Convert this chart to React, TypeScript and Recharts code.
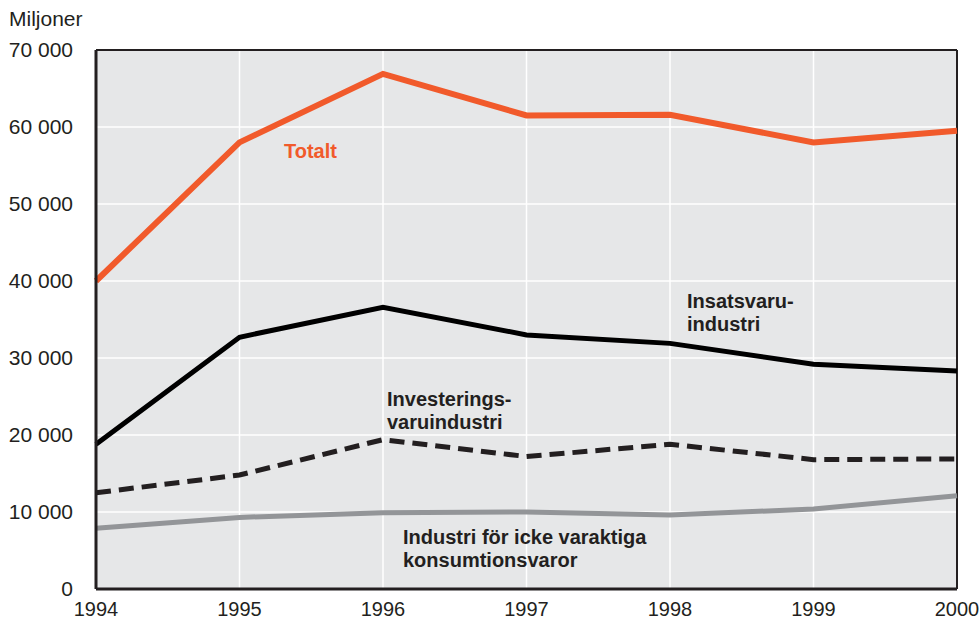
import React from 'react';
import {
  LineChart,
  Line,
  XAxis,
  YAxis,
  CartesianGrid,
  ReferenceLine,
} from 'recharts';

const years = [1994, 1995, 1996, 1997, 1998, 1999, 2000];
const totalt = [40000, 58000, 66900, 61500, 61600, 58000, 59500];
const insatsvaru = [18800, 32700, 36600, 33000, 31900, 29200, 28300];
const investerings = [12500, 14800, 19400, 17200, 18800, 16800, 16900];
const konsumtion = [7900, 9300, 9900, 10000, 9600, 10400, 12100];
const yTicks = [0, 10000, 20000, 30000, 40000, 50000, 60000, 70000];

const data = years.map((year, i) => ({
  year,
  totalt: totalt[i],
  insatsvaru: insatsvaru[i],
  investerings: investerings[i],
  konsumtion: konsumtion[i],
}));

const FONT = '"Liberation Sans", Arial, sans-serif';
const INK = '#231f20';
const ORANGE = '#f15a2b';

const formatY = (v: number) => (v === 0 ? '0' : `${v / 1000} 000`);

const labelStyle: React.CSSProperties = {
  position: 'absolute',
  fontFamily: FONT,
  fontWeight: 'bold',
  fontSize: 20,
  lineHeight: '23px',
  color: INK,
  whiteSpace: 'nowrap',
};

const App = () => {
  return (
    <div
      style={{
        position: 'absolute',
        left: 0,
        top: 0,
        width: 980,
        height: 621,
        background: '#fff',
        fontFamily: FONT,
      }}
    >
      <LineChart
        width={980}
        height={621}
        data={data}
        margin={{ top: 50, right: 23, left: 0, bottom: 0 }}
      >
        <CartesianGrid
          fill="#e6e7e8"
          fillOpacity={1}
          stroke="#ffffff"
          strokeWidth={1.5}
        />
        <XAxis
          dataKey="year"
          type="number"
          domain={[1994, 2000]}
          ticks={years}
          height={32}
          tickLine={false}
          tickSize={0}
          tickMargin={13}
          axisLine={{ stroke: INK, strokeWidth: 3 }}
          tick={{ fill: INK, fontSize: 20, fontFamily: FONT }}
        />
        <YAxis
          domain={[0, 70000]}
          ticks={yTicks}
          width={96}
          tickLine={false}
          tickSize={0}
          tickMargin={23}
          tickFormatter={formatY}
          axisLine={{ stroke: INK, strokeWidth: 3 }}
          tick={{ fill: INK, fontSize: 21, fontFamily: FONT }}
        />
        <ReferenceLine y={70000} stroke={INK} strokeWidth={2} />
        <ReferenceLine x={2000} stroke={INK} strokeWidth={2} />
        <Line
          dataKey="konsumtion"
          stroke="#939598"
          strokeWidth={5}
          dot={false}
          isAnimationActive={false}
        />
        <Line
          dataKey="investerings"
          stroke={INK}
          strokeWidth={5}
          strokeDasharray="15 8"
          dot={false}
          isAnimationActive={false}
        />
        <Line
          dataKey="insatsvaru"
          stroke="#000"
          strokeWidth={5}
          dot={false}
          isAnimationActive={false}
        />
        <Line
          dataKey="totalt"
          stroke={ORANGE}
          strokeWidth={6}
          dot={false}
          isAnimationActive={false}
        />
      </LineChart>

      <div style={{ ...labelStyle, fontWeight: 'normal', fontSize: 21, left: 9, top: 7 }}>
        Miljoner
      </div>
      <div style={{ ...labelStyle, color: ORANGE, left: 284, top: 140 }}>Totalt</div>
      <div style={{ ...labelStyle, left: 687, top: 290 }}>
        Insatsvaru-
        <br />
        industri
      </div>
      <div style={{ ...labelStyle, left: 387, top: 388 }}>
        Investerings-
        <br />
        varuindustri
      </div>
      <div style={{ ...labelStyle, left: 403, top: 526 }}>
        Industri för icke varaktiga
        <br />
        konsumtionsvaror
      </div>
    </div>
  );
};

export default App;
